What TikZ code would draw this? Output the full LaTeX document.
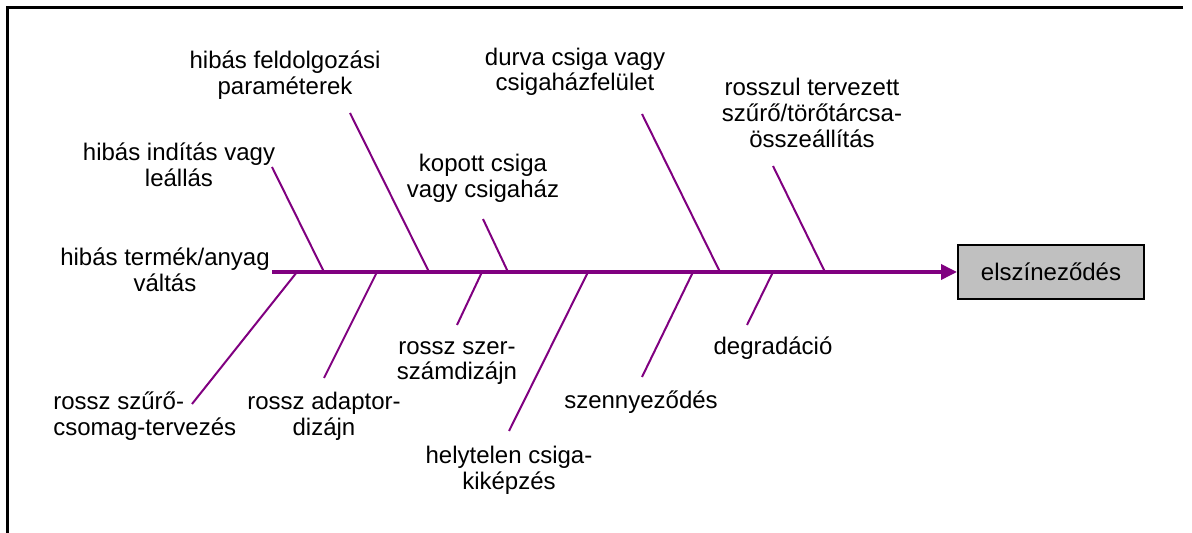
\documentclass[tikz,border=0pt]{standalone}
\usepackage{fontspec}
\setmainfont{Liberation Sans}
\usetikzlibrary{arrows.meta}
\definecolor{bone}{HTML}{800080}
\definecolor{boxgray}{HTML}{C0C0C0}
\tikzset{
  lbl/.style={align=center, inner sep=0pt, font=\fontsize{12}{12.8}\selectfont},
  bonel/.style={draw=bone, line width=1pt},
  spinel/.style={draw=bone, line width=1.8pt, -{Triangle[length=8pt,width=7.5pt]}},
  effect/.style={draw=black, line width=1pt, fill=boxgray, minimum width=93pt, minimum height=27pt, inner sep=0pt, font=\fontsize{12}{14}\selectfont},
  frameline/.style={draw=black, line width=1.5pt}
}
\begin{document}
\begin{tikzpicture}[x=0.5pt,y=-0.5pt]
\useasboundingbox (0,0) rectangle (1192,533);
% frame
\coordinate (fTL) at (7,8);
\coordinate (fTR) at (1183,8);
\coordinate (fBL) at (7,540);
\draw[frameline] (fTR) -- (fTL) -- (fBL);
% effect
\node[effect] (eff) at (1051,272) {elszíneződés};
\coordinate (spineStart) at (272,272);
\draw[spinel] (spineStart) -- (eff.west);
% upper bones
\coordinate (u1a) at (272,167); \coordinate (u1b) at (324,272);
\coordinate (u2a) at (350,113); \coordinate (u2b) at (429,272);
\coordinate (u3a) at (483,219); \coordinate (u3b) at (508,272);
\coordinate (u4a) at (642,114); \coordinate (u4b) at (720,272);
\coordinate (u5a) at (773,166); \coordinate (u5b) at (825,272);
\foreach \i in {1,...,5} { \draw[bonel] (u\i a) -- (u\i b); }
% lower bones
\coordinate (l1a) at (297,272); \coordinate (l1b) at (192,404);
\coordinate (l2a) at (377,272); \coordinate (l2b) at (324,378);
\coordinate (l3a) at (482,272); \coordinate (l3b) at (457,325);
\coordinate (l4a) at (588,272); \coordinate (l4b) at (509,431);
\coordinate (l5a) at (693,272); \coordinate (l5b) at (642,377);
\coordinate (l6a) at (773,272); \coordinate (l6b) at (747,325);
\foreach \i in {1,...,6} { \draw[bonel] (l\i a) -- (l\i b); }
% labels upper
\node[lbl] (t0) at (165,270) {hibás termék/anyag\\váltás};
\node[lbl] (t1) at (179,165) {hibás indítás vagy\\leállás};
\node[lbl] (t2) at (285,75) {hibás feldolgozási\\paraméterek};
\node[lbl] (t3) at (483,178) {kopott csiga\\vagy csigaház};
\node[lbl] (t4) at (575,72) {durva csiga vagy\\csigaházfelület};
\node[lbl] (t5) at (812,113) {rosszul tervezett\\szűrő/törőtárcsa-\\összeállítás};
% labels lower
\node[lbl, align=left, anchor=west] (b1) at (53,416) {rossz szűrő-\\csomag-tervezés};
\node[lbl] (b2) at (324,416) {rossz adaptor-\\dizájn};
\node[lbl] (b3) at (457,363) {rossz szer-\\számdizájn};
\node[lbl] (b4) at (509,470) {helytelen csiga-\\kiképzés};
\node[lbl] (b5) at (641,402) {szennyeződés};
\node[lbl] (b6) at (773,348) {degradáció};
\end{tikzpicture}
\end{document}
